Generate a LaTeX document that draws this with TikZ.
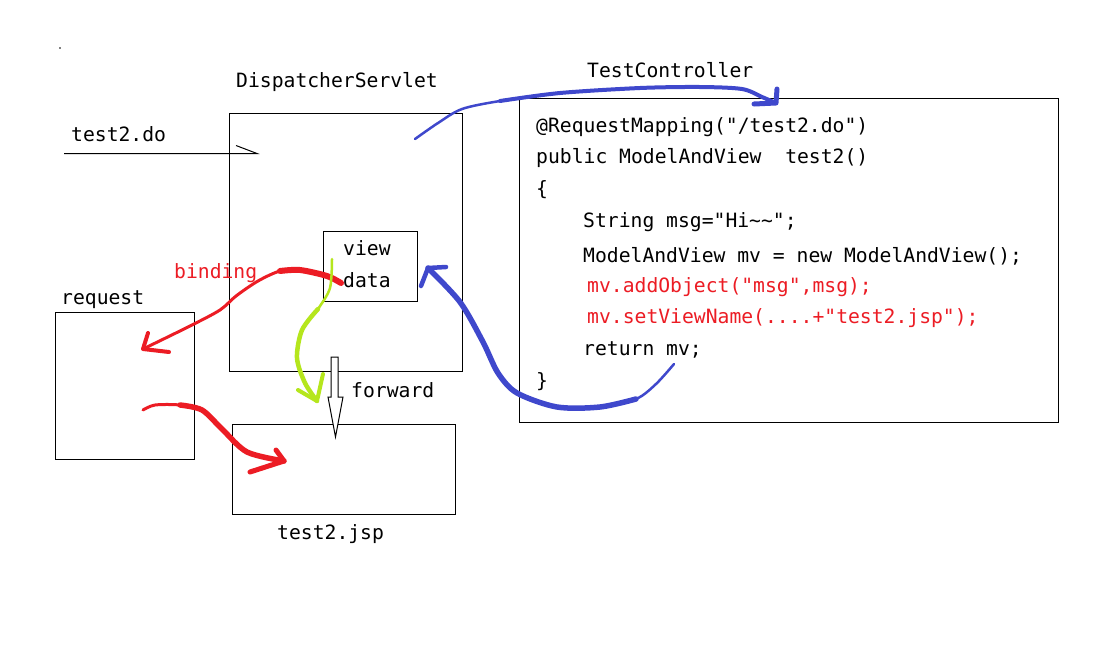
\documentclass[tikz,border=0pt]{standalone}
\usepackage{fontspec}
\newfontfamily\codefont{DejaVu Sans Mono}
\definecolor{hred}{RGB}{236,28,36}
\definecolor{hblue}{RGB}{63,72,204}
\definecolor{hgreen}{RGB}{181,230,29}
\begin{document}
\begin{tikzpicture}[x=1pt,y=-1pt,
  lbl/.style={anchor=base west,inner sep=0pt,font=\codefont\fontsize{19.7}{22}\selectfont},
  redlbl/.style={lbl,text=hred},
  box/.style={draw,line width=1pt,inner sep=0pt,anchor=north west},
  brush/.style={line cap=round,line join=round},
  bluebrush/.style={brush,draw=hblue},
  redbrush/.style={brush,draw=hred},
  greenbrush/.style={brush,draw=hgreen}]
\useasboundingbox[fill=white] (0,0) rectangle (1095,654);

% tiny dot
\fill (60,48) circle (0.8);

% boxes
\node[box,minimum width=233pt,minimum height=258pt] (ds) at (229,113) {};
\node[box,minimum width=94pt,minimum height=70pt] (vd) at (323,231) {};
\node[box,minimum width=139pt,minimum height=147pt] (req) at (55,312) {};
\node[box,minimum width=223pt,minimum height=90pt] (jsp) at (232,424) {};
\node[box,minimum width=539pt,minimum height=324pt] (tc) at (519,98) {};

% labels
\node[lbl] (dsl) at (236,87) {DispatcherServlet};
\node[lbl] (tcl) at (587,77) {TestController};
\node[lbl] (t2do) at (71,141) {test2.do};
\node[lbl] (viewl) at (343,255) {view};
\node[lbl] (datal) at (343,287) {data};
\node[redlbl] (bindl) at (174,278) {binding};
\node[lbl] (reql) at (61,304) {request};
\node[lbl] (fwdl) at (351,397) {forward};
\node[lbl] (jspl) at (277,539) {test2.jsp};

% code
\node[lbl] (c1) at (536,132) {@RequestMapping("/test2.do")};
\node[lbl] (c2) at (536,163) {public ModelAndView\ \ test2()};
\node[lbl] (c3) at (536,195) {\{};
\node[lbl] (c4) at (583,227) {String msg="Hi\textasciitilde\textasciitilde";};
\node[lbl] (c5) at (583,262) {ModelAndView mv = new ModelAndView();};
\node[redlbl] (c6) at (587,292) {mv.addObject("msg",msg);};
\node[redlbl] (c7) at (587,323) {mv.setViewName(....+"test2.jsp");};
\node[lbl] (c8) at (583,355) {return mv;};
\node[lbl] (c9) at (536,387) {\}};

% request arrow test2.do
\coordinate (inS) at (64,153.5);
\coordinate (inE) at (257,153.5);
\draw[line width=1pt] (inS) -- (inE) -- (236,145.5);

% forward hollow arrow
\coordinate (fwTip) at (335.5,437);
\draw[line width=1pt,fill=white] (331,357) -- (338,357) -- (338,397) -- (343,397)
  -- (fwTip) -- (328,397) -- (331,397) -- cycle;

% blue arrow DispatcherServlet -> TestController
\coordinate (b1s) at (415,139);
\coordinate (b1t) at (776,103);
\draw[bluebrush,line width=2.5pt] plot[smooth] coordinates {(b1s) (438,123) (462,109) (500,101) (560,93) (640,88) (700,87) (742,89) (762,97) (b1t)};
\draw[bluebrush,line width=4pt] plot[smooth] coordinates {(500,101) (560,93) (640,88) (700,87) (742,89) (762,97) (b1t)};
\draw[bluebrush,line width=5pt] (754,104) -- (b1t) -- (777,89);

% blue arrow TestController -> view/data
\coordinate (b2s) at (674,364);
\coordinate (b2t) at (428,268);
\draw[bluebrush,line width=2.5pt] plot[smooth] coordinates {(b2s) (656,384) (636,399) (600,407) (557,407) (517,393) (498,373) (483,342) (460,302) (b2t)};
\draw[bluebrush,line width=5.5pt] plot[smooth] coordinates {(636,399) (600,407) (557,407) (517,393) (498,373) (483,342) (460,302) (b2t)};
\draw[bluebrush,line width=4.5pt] (421,286) -- (b2t) -- (446,267);

% red binding arrow data -> request
\coordinate (r1s) at (341,283);
\coordinate (r1t) at (143,349);
\draw[redbrush,line width=3pt] plot[smooth] coordinates {(r1s) (327,276) (300,270) (280,271) (258,281) (236,296) (220,310) (190,326) (r1t)};
\draw[redbrush,line width=6pt] plot[smooth] coordinates {(r1s) (327,276) (300,270) (280,271)};
\draw[redbrush,line width=4pt] (148,333) -- (r1t) -- (169,352);

% red arrow request -> test2.jsp
\coordinate (r2s) at (143,410);
\coordinate (r2t) at (284,461);
\draw[redbrush,line width=3pt] plot[smooth] coordinates {(r2s) (155,405) (180,405) (202,410) (222,429) (247,452) (r2t)};
\draw[redbrush,line width=5.5pt] plot[smooth] coordinates {(180,405) (202,410) (222,429) (247,452) (r2t)};
\draw[redbrush,line width=5pt] (276,450) -- (r2t) -- (250,472);

% green arrow view/data -> test2.jsp
\coordinate (gs) at (332,259);
\coordinate (gt) at (317,401);
\draw[greenbrush,line width=2.5pt] plot[smooth] coordinates {(gs) (330,288) (318,309) (302,330) (297,358) (305,383) (gt)};
\draw[greenbrush,line width=4.5pt] plot[smooth] coordinates {(318,309) (302,330) (297,358) (305,383) (gt)};
\draw[greenbrush,line width=4pt] (298,390) -- (gt) -- (323,374);
\end{tikzpicture}
\end{document}
